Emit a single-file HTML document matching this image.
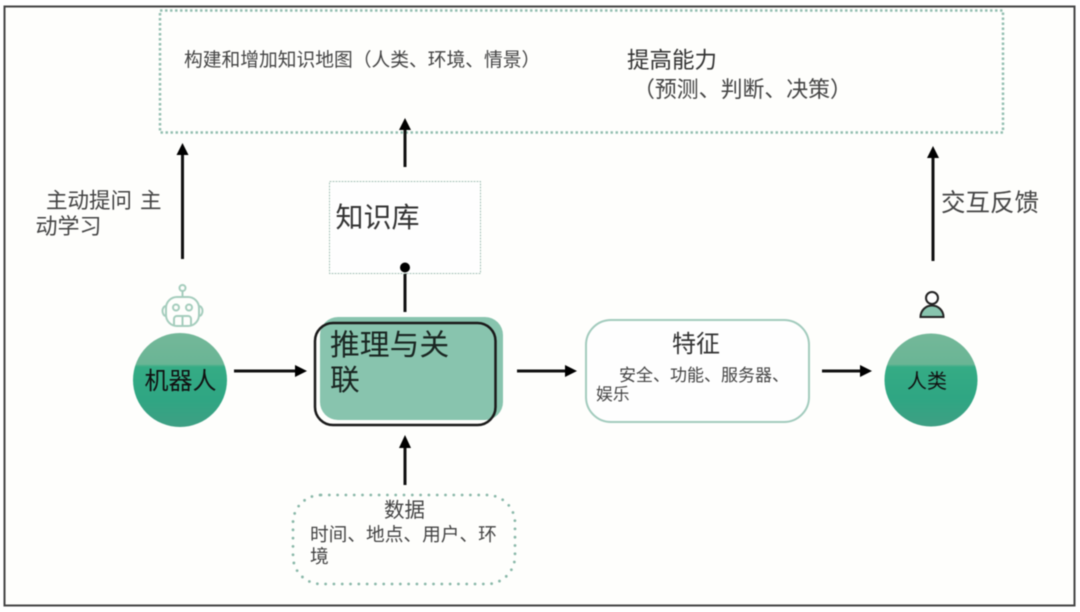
<!DOCTYPE html>
<html>
<head>
<meta charset="utf-8">
<style>
html,body{margin:0;padding:0;background:#fff;width:1080px;height:612px;overflow:hidden}
svg{display:block;filter:blur(0.45px)}
text{font-family:"Liberation Sans","Noto Sans CJK SC",sans-serif}
</style>
</head>
<body>
<svg width="1080" height="612" viewBox="0 0 1080 612" xmlns="http://www.w3.org/2000/svg">
<defs>
<linearGradient id="g" x1="0" y1="0" x2="0" y2="1">
<stop offset="0" stop-color="#74b899"/>
<stop offset="0.33" stop-color="#6ab595"/>
<stop offset="0.36" stop-color="#35ac85"/>
<stop offset="0.7" stop-color="#2fa683"/>
<stop offset="1" stop-color="#3f9f84"/>
</linearGradient>
</defs>
<rect x="0" y="0" width="1080" height="612" fill="#fff"/>
<rect x="4.500" y="6.500" width="1070" height="599" fill="#fefefc" stroke="#444" stroke-width="2"/>

<!-- top dotted box -->
<rect x="160" y="10.500" width="843" height="122" fill="none" stroke="#94bfb1" stroke-width="2.500" stroke-dasharray="2.500 2.500"/>
<text x="184" y="66" font-size="18.750" fill="#444">构建和增加知识地图（人类、环境、情景）</text>
<text x="627" y="68" font-size="22.500" fill="#333">提高能力</text>
<text x="633" y="97" font-size="21.900" fill="#444">（预测、判断、决策）</text>

<!-- arrows -->
<g stroke="#111" stroke-width="3" fill="none">
<line x1="182.500" y1="155" x2="182.500" y2="259"/>
<line x1="405" y1="130" x2="405" y2="167"/>
<line x1="933" y1="158" x2="933" y2="261"/>
<line x1="405" y1="268" x2="405" y2="312"/>
<line x1="405" y1="448" x2="405" y2="485"/>
<line x1="234" y1="371" x2="296" y2="371"/>
<line x1="517" y1="371" x2="566" y2="371"/>
<line x1="822" y1="371" x2="861" y2="371"/>
</g>
<g fill="#000">
<polygon points="182.500,143 176.500,155 188.500,155"/>
<polygon points="405,118 399,130 411,130"/>
<polygon points="933,146 927,158 939,158"/>
<polygon points="405,435 399,448 411,448"/>
<polygon points="307,371 295,365 295,377"/>
<polygon points="577,371 565,365 565,377"/>
<polygon points="872,371 860,365 860,377"/>
</g>

<text x="46" y="208" font-size="21.500" fill="#444">主动提问</text>
<text x="140" y="208" font-size="21.500" fill="#444">主</text>
<text x="35.500" y="234" font-size="22" fill="#444">动学习</text>
<text x="941" y="211" font-size="24.500" fill="#444">交互反馈</text>

<!-- knowledge box -->
<rect x="329.500" y="181.500" width="151" height="92" fill="#fefefe" stroke="#a9c4ba" stroke-width="1" stroke-dasharray="2 1"/>
<text x="335.500" y="227" font-size="28" fill="#333">知识库</text>
<circle cx="405" cy="267.500" r="5" fill="#000"/>

<!-- robot icon -->
<g fill="none" stroke="#a5cdbd" stroke-width="2">
<circle cx="182.500" cy="288" r="3"/>
<line x1="182.500" y1="291" x2="182.500" y2="297"/>
<rect x="166" y="297" width="33" height="29" rx="11"/>
<path d="M166 306 a3.500 5 0 0 0 0 10 M199 306 a3.500 5 0 0 1 0 10"/>
<circle cx="176" cy="307.500" r="3"/>
<circle cx="189" cy="307.500" r="3"/>
<path d="M174 326 V319 a3 3 0 0 1 3 -3 H188 a3 3 0 0 1 3 3 V326 M182.500 316 V326"/>
</g>

<!-- robot circle -->
<circle cx="180" cy="380" r="47" fill="url(#g)"/>
<text x="144.500" y="389" font-size="24" fill="#111">机器人</text>

<!-- center -->
<rect x="320" y="317" width="183" height="103" rx="18" fill="#88c4ae"/>
<rect x="315" y="323" width="180.500" height="102" rx="18" fill="none" stroke="#1a1a1a" stroke-width="2.500"/>
<text x="330" y="355" font-size="29.800" fill="#1a2622">推理与关</text>
<text x="330" y="390" font-size="29.800" fill="#1a2622">联</text>

<!-- feature -->
<rect x="586" y="320" width="223" height="102" rx="25" fill="#fefefe" stroke="#a2cbbd" stroke-width="2"/>
<text x="672" y="352" font-size="24" fill="#333">特征</text>
<text x="619" y="381" font-size="17" fill="#444">安全、功能、服务器、</text>
<text x="596" y="400" font-size="16.800" fill="#444">娱乐</text>

<!-- person -->
<circle cx="932" cy="298" r="6" fill="#fff" stroke="#222" stroke-width="2"/>
<path d="M920.500 317 a11.500 11.500 0 0 1 23 0 z" fill="#88c4ae" stroke="#222" stroke-width="2"/>
<circle cx="931" cy="380" r="46.500" fill="url(#g)"/>
<text x="907" y="388" font-size="20" fill="#111">人类</text>

<!-- data -->
<rect x="293" y="495" width="222" height="89" rx="28" fill="none" stroke="#8ab8a9" stroke-width="2.800" stroke-linecap="round" stroke-dasharray="0 8.300"/>
<text x="384" y="517" font-size="20.500" fill="#444">数据</text>
<text x="310" y="541" font-size="18.700" fill="#444">时间、地点、用户、环</text>
<text x="310" y="563" font-size="18.700" fill="#444">境</text>
</svg>
</body>
</html>
